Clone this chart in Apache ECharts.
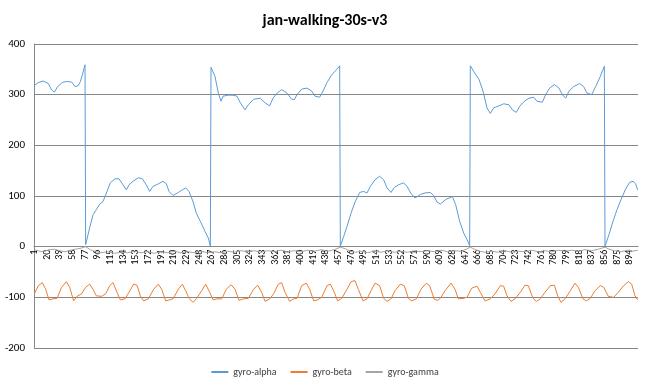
<!DOCTYPE html>
<html><head><meta charset="utf-8">
<script src="https://cdn.jsdelivr.net/npm/echarts@6/dist/echarts.min.js"></script>
<style>html,body{margin:0;padding:0;background:#fff}#c{width:650px;height:390px}</style>
</head><body><div id="c"></div>
<script>
const chartTitle = 'jan-walking-30s-v3';
const sampleCount = 906;
const categories = [];
for (let i = 1; i <= sampleCount; i++) categories.push(String(i));
const yTicks = [-200, -100, 0, 100, 200, 300, 400];
const seriesNames = ['gyro-alpha', 'gyro-beta', 'gyro-gamma'];

// [sample index, value] pairs
const gyroAlpha = [[0,318],[6,324],[13,327],[21,322],[26,309],[30,305],[35,316],[42,324],[48,326],[56,325],[61,316],[66,318],[69,326],[72,339],[76,359],
[77,4],[83,37],[88,63],[93,73],[98,84],[103,89],[109,109],[114,126],[121,134],[127,134],[133,122],[138,112],[142,122],[148,129],[156,136],[162,134],[168,122],[173,109],[178,119],[186,124],[193,129],[198,124],[202,109],[208,101],[216,107],[222,112],[227,116],[232,109],[238,89],[243,66],[249,50],[256,30],[261,17],[264,1],
[265,354],[271,336],[276,303],[280,287],[283,297],[291,299],[298,299],[304,297],[309,284],[316,270],[321,280],[329,291],[339,293],[346,284],[353,278],[358,293],[364,303],[371,310],[379,303],[386,291],[390,290],[394,300],[401,311],[409,313],[416,307],[421,297],[428,295],[433,307],[439,324],[446,339],[453,349],[458,357],
[459,1],[464,20],[469,40],[475,66],[481,88],[488,107],[494,109],[499,106],[504,119],[511,132],[518,139],[524,132],[529,116],[535,107],[540,117],[546,122],[554,126],[559,119],[565,105],[571,96],[579,103],[586,106],[594,107],[599,101],[604,88],[609,84],[617,93],[627,99],[632,83],[638,50],[644,27],[649,14],[653,2],
[654,357],[659,346],[667,330],[673,307],[679,274],[684,263],[689,274],[697,278],[704,282],[712,280],[717,270],[723,265],[728,277],[735,287],[742,293],[749,295],[754,287],[762,285],[767,300],[773,313],[780,320],[787,313],[792,300],[797,293],[802,307],[809,316],[818,322],[824,316],[829,303],[836,300],[842,316],[848,333],[855,356],
[856,1],[862,24],[868,50],[874,73],[880,93],[887,114],[893,127],[898,129],[902,124],[905,112]];

const gyroBeta = [[0,-93],[6,-77],[12,-71],[17,-84],[22,-105],[28,-103],[34,-102],[41,-80],[48,-69],[53,-80],[59,-107],[64,-98],[71,-93],[77,-80],[83,-74],[88,-84],[93,-97],[101,-98],[107,-93],[113,-77],[118,-71],[124,-90],[129,-105],[136,-103],[142,-90],[149,-74],[154,-76],[159,-97],[164,-107],[171,-103],[179,-84],[186,-74],[191,-84],[197,-107],[203,-105],[208,-103],[216,-84],[222,-74],[227,-87],[232,-102],[238,-110],[243,-103],[251,-87],[257,-74],[263,-90],[268,-105],[274,-103],[281,-103],[288,-84],[295,-75],[301,-84],[307,-106],[314,-103],[321,-102],[329,-84],[335,-76],[341,-90],[346,-108],[353,-103],[359,-93],[366,-74],[371,-71],[376,-90],[383,-108],[389,-103],[394,-102],[401,-77],[408,-72],[413,-84],[419,-107],[425,-105],[431,-100],[439,-77],[444,-74],[449,-87],[455,-107],[461,-102],[469,-84],[475,-69],[481,-67],[486,-84],[493,-107],[499,-103],[505,-87],[511,-72],[518,-77],[524,-102],[529,-108],[535,-103],[541,-87],[549,-74],[555,-77],[561,-102],[566,-107],[573,-103],[580,-84],[588,-72],[593,-77],[600,-104],[605,-106],[609,-102],[616,-87],[625,-72],[631,-84],[636,-103],[643,-102],[649,-100],[656,-82],[664,-78],[669,-90],[676,-107],[684,-103],[691,-93],[699,-77],[704,-78],[709,-97],[715,-108],[721,-103],[729,-90],[736,-76],[741,-77],[748,-102],[753,-108],[759,-103],[766,-90],[774,-77],[780,-76],[785,-97],[790,-110],[796,-103],[804,-87],[811,-72],[816,-80],[823,-103],[828,-107],[834,-102],[841,-87],[849,-77],[854,-80],[861,-98],[869,-100],[876,-90],[884,-77],[891,-69],[896,-74],[901,-97],[905,-105]];

const gyroGamma = [[0,-6],[8,-9],[14,-10],[22,-6],[30,-5],[38,-8],[46,-10],[54,-7],[62,-5],[70,-3],[77,0],[84,-6],[92,-10],[100,-12],[110,-10],[120,-13],[130,-11],[140,-12],[150,-9],[160,-12],[170,-10],[180,-13],[190,-10],[200,-12],[210,-9],[220,-12],[230,-10],[240,-12],[250,-9],[260,-12],[270,-10],[280,-12],[290,-9],[300,-11],[310,-8],[320,-10],[330,-8],[340,-11],[350,-8],[360,-10],[370,-7],[380,-10],[390,-8],[400,-10],[410,-7],[420,-9],[430,-6],[440,-9],[450,-6],[459,-1],[466,-4],[474,-9],[482,-11],[490,-9],[500,-12],[510,-9],[520,-11],[530,-8],[540,-11],[550,-9],[560,-11],[570,-8],[580,-10],[590,-8],[600,-10],[610,-7],[620,-10],[630,-8],[640,-9],[648,-5],[654,-1],[660,-5],[668,-9],[676,-11],[686,-9],[696,-11],[706,-8],[716,-11],[726,-9],[736,-10],[746,-7],[756,-10],[766,-8],[776,-10],[786,-7],[796,-9],[806,-7],[816,-9],[826,-6],[836,-8],[846,-5],[856,-1],[862,-5],[870,-8],[880,-10],[890,-7],[898,-9],[905,-7]];

const colors = ['#5B9BD5', '#ED7D31', '#A5A5A5'];
const chart = echarts.init(document.getElementById('c'), null, {renderer: 'canvas'});
const font = 'Carlito, Lato, "Open Sans", sans-serif';
const gridTop = 44, gridBottom = 42, chartH = 390;
const plotH = chartH - gridTop - gridBottom;
const zeroOffset = -plotH * (0 - yTicks[0]) / (yTicks[yTicks.length - 1] - yTicks[0]);
const mk = (name, data, color) => ({
  name, type: 'line', data, showSymbol: false, symbol: 'none', animation: false,
  lineStyle: {color, width: 1}, itemStyle: {color}
});
chart.setOption({
  animation: false,
  title: {text: chartTitle, left: 'center', top: 8,
    textStyle: {fontFamily: font, fontSize: 16, fontWeight: 'bold', color: '#000'}},
  legend: {bottom: 8, left: 'center', itemWidth: 17, itemHeight: 2, itemGap: 14, icon: 'rect',
    textStyle: {fontFamily: font, fontSize: 10, color: '#404040'}, data: seriesNames},
  grid: {left: 34, right: 12, top: gridTop, bottom: gridBottom, containLabel: false},
  xAxis: {type: 'category', data: categories, boundaryGap: true, position: 'bottom', offset: zeroOffset,
    axisLine: {onZero: false, lineStyle: {color: '#868686', width: 1}},
    axisTick: {show: false},
    axisLabel: {interval: 18, rotate: 90, fontFamily: font, fontSize: 10, color: '#000', margin: 3}},
  yAxis: {type: 'value', min: yTicks[0], max: yTicks[yTicks.length - 1], interval: 100,
    axisLine: {show: true, lineStyle: {color: '#868686'}},
    axisTick: {show: false},
    axisLabel: {fontFamily: font, fontSize: 11, color: '#000', margin: 9},
    splitLine: {lineStyle: {color: '#868686', width: 1}}},
  series: [mk(seriesNames[0], gyroAlpha, colors[0]), mk(seriesNames[1], gyroBeta, colors[1]), mk(seriesNames[2], gyroGamma, colors[2])]
});
</script></body></html>
